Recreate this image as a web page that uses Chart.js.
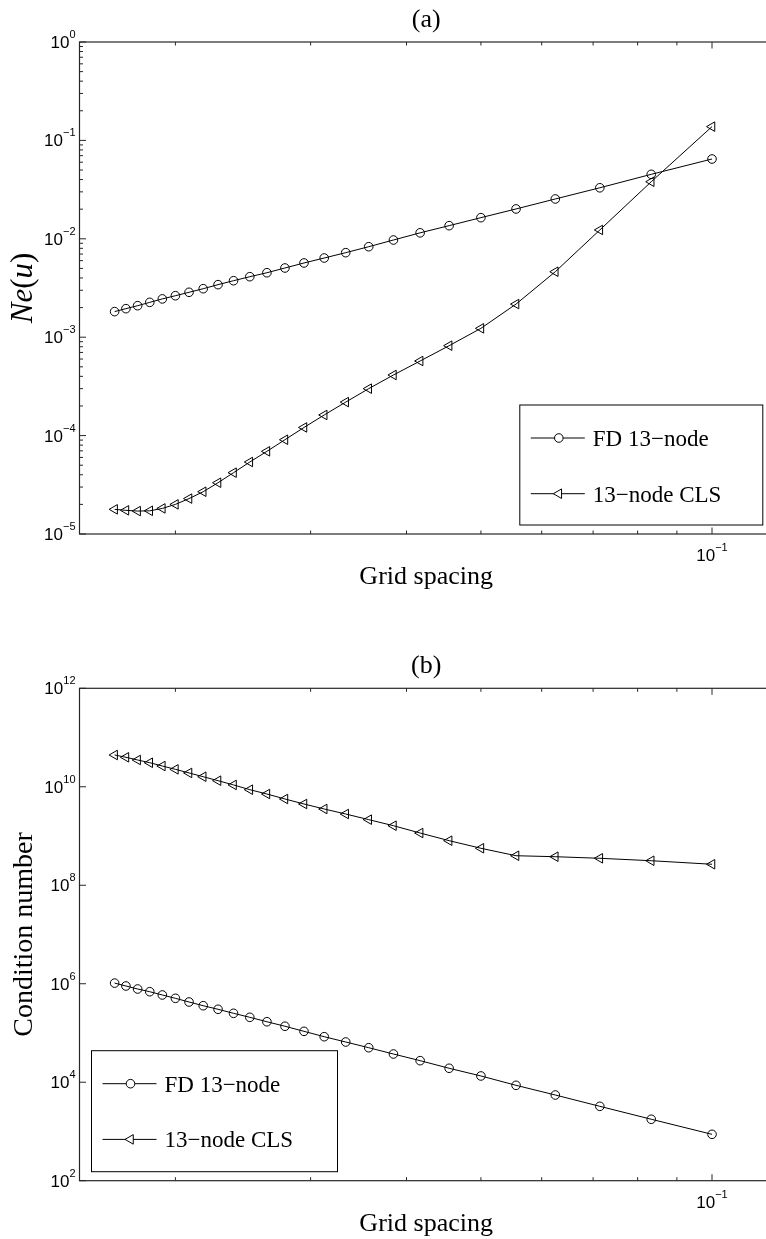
<!DOCTYPE html>
<html>
<head>
<meta charset="utf-8">
<script src="https://cdn.jsdelivr.net/npm/chart.js"></script>
<style>
    html, body { margin: 0; padding: 0; width: 766px; height: 1239px; overflow: hidden; background: #fff; }
    canvas { position: absolute; left: 0; }
    #chart-a { top: 0; }
    #chart-b { top: 640px; }
</style>
</head>
<body>
<canvas id="chart-a" width="790" height="640"></canvas>
<canvas id="chart-b" width="790" height="599"></canvas>
<script>
// Grid spacing h = 1/N, N = 60, 58, ..., 10
const gridSpacing = [1/60, 1/58, 1/56, 1/54, 1/52, 1/50, 1/48, 1/46, 1/44, 1/42, 1/40, 1/38, 1/36,
    1/34, 1/32, 1/30, 1/28, 1/26, 1/24, 1/22, 1/20, 1/18, 1/16, 1/14, 1/12, 1/10];

// (a) error Ne(u)
const errorFD = [1.82e-3, 1.95e-3, 2.09e-3, 2.26e-3, 2.45e-3, 2.64e-3, 2.86e-3, 3.11e-3, 3.42e-3,
    3.75e-3, 4.12e-3, 4.52e-3, 5.05e-3, 5.68e-3, 6.38e-3, 7.23e-3, 8.31e-3, 9.72e-3, 1.15e-2,
    1.36e-2, 1.64e-2, 2.01e-2, 2.54e-2, 3.30e-2, 4.52e-2, 6.47e-2];
const errorCLS = [1.78e-5, 1.74e-5, 1.71e-5, 1.72e-5, 1.82e-5, 2.00e-5, 2.29e-5, 2.69e-5, 3.32e-5,
    4.20e-5, 5.39e-5, 6.92e-5, 9.08e-5, 1.21e-4, 1.62e-4, 2.19e-4, 3.00e-4, 4.13e-4, 5.73e-4,
    8.20e-4, 1.23e-3, 2.17e-3, 4.63e-3, 1.23e-2, 3.80e-2, 1.38e-1];

// (b) condition number
const condFD = [1.03e6, 9.0e5, 7.82e5, 6.89e5, 5.91e5, 5.06e5, 4.26e5, 3.58e5, 3.03e5, 2.51e5,
    2.08e5, 1.69e5, 1.37e5, 1.08e5, 8.4e4, 6.56e4, 5.02e4, 3.74e4, 2.74e4, 1.92e4, 1.34e4,
    8.65e3, 5.50e3, 3.24e3, 1.77e3, 8.75e2];
const condCLS = [4.42e10, 3.97e10, 3.50e10, 3.08e10, 2.64e10, 2.26e10, 1.91e10, 1.60e10, 1.33e10,
    1.09e10, 8.73e9, 7.13e9, 5.65e9, 4.47e9, 3.54e9, 2.80e9, 2.15e9, 1.62e9, 1.15e9, 8.04e8,
    5.64e8, 3.98e8, 3.80e8, 3.53e8, 3.15e8, 2.67e8];

// Ticks
const xTicks = [0.02, 0.03, 0.04, 0.05, 0.06, 0.07, 0.08, 0.09, 0.1];
const xLabelTicks = [0.1];
const errorDecades = [-5, -4, -3, -2, -1, 0];
const condDecades = [2, 4, 6, 8, 10, 12];
const minorSteps = [2, 3, 4, 5, 6, 7, 8, 9];

const seriesLabels = ['FD 13\u2212node', '13\u2212node CLS'];

const SANS = '"Liberation Sans", Arial, Helvetica, sans-serif';
const SERIF = '"Liberation Serif", "Times New Roman", serif';

// Superscript power label, "10" + exponent
function drawPower(ctx, exp, x, y, align) {
    ctx.font = '17px ' + SANS;
    const wb = ctx.measureText('10').width;
    ctx.font = '11px ' + SANS;
    const we = ctx.measureText(exp).width;
    const left = align === 'right' ? x - wb - we : x - (wb + we) / 2;
    ctx.textAlign = 'left';
    ctx.textBaseline = 'alphabetic';
    ctx.font = '17px ' + SANS;
    ctx.fillText('10', left, y);
    ctx.font = '11px ' + SANS;
    ctx.fillText(exp, left + wb, y - 10);
}

function expText(e) {
    return e < 0 ? '\u2212' + Math.abs(e) : String(e);
}

function tick(ctx, x1, y1, x2, y2) {
    ctx.beginPath();
    ctx.moveTo(x1, y1);
    ctx.lineTo(x2, y2);
    ctx.stroke();
}

// Legend marker
function drawMarker(ctx, ds, cx, cy) {
    ctx.fillStyle = '#fff';
    ctx.strokeStyle = '#000';
    ctx.lineWidth = 1;
    if (Chart.helpers && Chart.helpers.drawPoint) {
        Chart.helpers.drawPoint(ctx, {
            pointStyle: ds.pointStyle, radius: ds.pointRadius,
            rotation: ds.pointRotation, borderWidth: 1
        }, cx, cy);
        return;
    }
    ctx.beginPath();
    if (ds.pointStyle === 'circle') {
        ctx.arc(cx, cy, ds.pointRadius, 0, Math.PI * 2);
    } else {
        const r = ds.pointRadius;
        ctx.moveTo(cx - r, cy);
        ctx.lineTo(cx + r / 2, cy - r * 0.866);
        ctx.lineTo(cx + r / 2, cy + r * 0.866);
        ctx.closePath();
    }
    ctx.fill();
    ctx.stroke();
}

// MATLAB style box, ticks, labels and legend
const matlabAxes = {
    id: 'matlabAxes',
    afterDraw(chart, args, opts) {
        const { ctx, chartArea: a, scales: { x, y } } = chart;
        ctx.save();

        // Axis box
        ctx.strokeStyle = '#262626';
        ctx.lineWidth = 1.2;
        ctx.strokeRect(a.left, a.top, a.right - a.left, a.bottom - a.top);

        // X ticks (inward, top and bottom)
        ctx.lineWidth = 1;
        xTicks.forEach(v => {
            const px = x.getPixelForValue(v);
            const len = xLabelTicks.includes(v) ? 6.5 : 3.5;
            tick(ctx, px, a.bottom, px, a.bottom - len);
            tick(ctx, px, a.top, px, a.top + len);
        });

        // Y ticks
        opts.decades.forEach(d => {
            const py = y.getPixelForValue(Math.pow(10, d));
            tick(ctx, a.left, py, a.left + 6.5, py);
            tick(ctx, a.right, py, a.right - 6.5, py);
            if (opts.minorY && d < opts.decades[opts.decades.length - 1]) {
                minorSteps.forEach(m => {
                    const pm = y.getPixelForValue(m * Math.pow(10, d));
                    tick(ctx, a.left, pm, a.left + 3.5, pm);
                    tick(ctx, a.right, pm, a.right - 3.5, pm);
                });
            }
        });

        // Tick labels
        ctx.fillStyle = '#000';
        opts.decades.forEach(d => {
            const py = y.getPixelForValue(Math.pow(10, d));
            drawPower(ctx, expText(d), a.left - 4, py + 6, 'right');
        });
        xLabelTicks.forEach(v => {
            const px = x.getPixelForValue(v);
            drawPower(ctx, expText(Math.round(Math.log10(v))), px, a.bottom + 27, 'center');
        });

        // Title and x label
        const cx = (a.left + a.right) / 2;
        ctx.textAlign = 'center';
        ctx.font = '26px ' + SERIF;
        ctx.fillText(opts.title, cx, a.top - 15);
        ctx.fillText('Grid spacing', cx, a.bottom + 50);

        // Y label (rotated, mixed italic)
        ctx.save();
        ctx.translate(31.5, (a.top + a.bottom) / 2);
        ctx.rotate(-Math.PI / 2);
        ctx.textAlign = 'left';
        const parts = opts.yTitle;
        const fontOf = p => (p[1] ? 'italic ' : '') + opts.yTitleSize + 'px ' + SERIF;
        let total = 0;
        parts.forEach(p => { ctx.font = fontOf(p); total += ctx.measureText(p[0]).width; });
        let tx = -total / 2;
        parts.forEach(p => {
            ctx.font = fontOf(p);
            ctx.fillText(p[0], tx, 0);
            tx += ctx.measureText(p[0]).width;
        });
        ctx.restore();

        // Legend box
        const lg = opts.legend;
        const lx = lg.corner === 'southeast' ? a.right - 10 - lg.width : a.left + 12;
        const ly = a.bottom - 9 - lg.height;
        ctx.fillStyle = '#fff';
        ctx.fillRect(lx, ly, lg.width, lg.height);
        ctx.strokeStyle = '#000';
        ctx.lineWidth = 1;
        ctx.strokeRect(lx, ly, lg.width, lg.height);
        chart.data.datasets.forEach((ds, i) => {
            const ry = ly + 33 + i * 55.7;
            ctx.strokeStyle = '#000';
            tick(ctx, lx + 11, ry, lx + 65, ry);
            drawMarker(ctx, ds, lx + 39, ry);
            ctx.fillStyle = '#000';
            ctx.font = '23px ' + SERIF;
            ctx.textAlign = 'left';
            ctx.fillText(ds.label, lx + 73, ry + 8);
        });

        ctx.restore();
    }
};

function makeSeries(label, values, style) {
    return {
        label: label,
        data: gridSpacing.map((h, i) => ({ x: h, y: values[i] })),
        borderColor: '#000',
        borderWidth: 1,
        pointStyle: style,
        pointRadius: style === 'circle' ? 4.3 : 5.5,
        pointRotation: style === 'triangle' ? -90 : 0,
        pointBorderColor: '#000',
        pointBorderWidth: 1,
        pointBackgroundColor: 'rgba(0,0,0,0)',
        tension: 0,
        fill: false
    };
}

function makeChart(id, fd, cls, yMin, yMax, padding, extra) {
    return new Chart(document.getElementById(id), {
        type: 'line',
        data: {
            datasets: [
                makeSeries(seriesLabels[0], fd, 'circle'),
                makeSeries(seriesLabels[1], cls, 'triangle')
            ]
        },
        options: {
            responsive: false,
            animation: false,
            devicePixelRatio: 1,
            layout: { padding: padding },
            scales: {
                x: { type: 'logarithmic', min: 0.015, max: 0.12, bounds: 'data', display: false },
                y: { type: 'logarithmic', min: yMin, max: yMax, bounds: 'data', display: false }
            },
            plugins: {
                legend: { display: false },
                tooltip: { enabled: false },
                matlabAxes: extra
            }
        },
        plugins: [matlabAxes]
    });
}

// (a) error
makeChart('chart-a', errorFD, errorCLS, 1e-5, 1,
    { left: 79.5, top: 42, right: 17.2, bottom: 106 },
    {
        title: '(a)',
        decades: errorDecades,
        minorY: true,
        yTitle: [['N', true], ['e', true], ['(', false], ['u', true], [')', false]],
        yTitleSize: 31,
        legend: { corner: 'southeast', width: 243, height: 120 }
    });

// (b) condition number
makeChart('chart-b', condFD, condCLS, 1e2, 1e12,
    { left: 79.5, top: 48.3, right: 17.2, bottom: 58.3 },
    {
        title: '(b)',
        decades: condDecades,
        minorY: false,
        yTitle: [['Condition number', false]],
        yTitleSize: 28,
        legend: { corner: 'southwest', width: 246, height: 121 }
    });
</script>
</body>
</html>
